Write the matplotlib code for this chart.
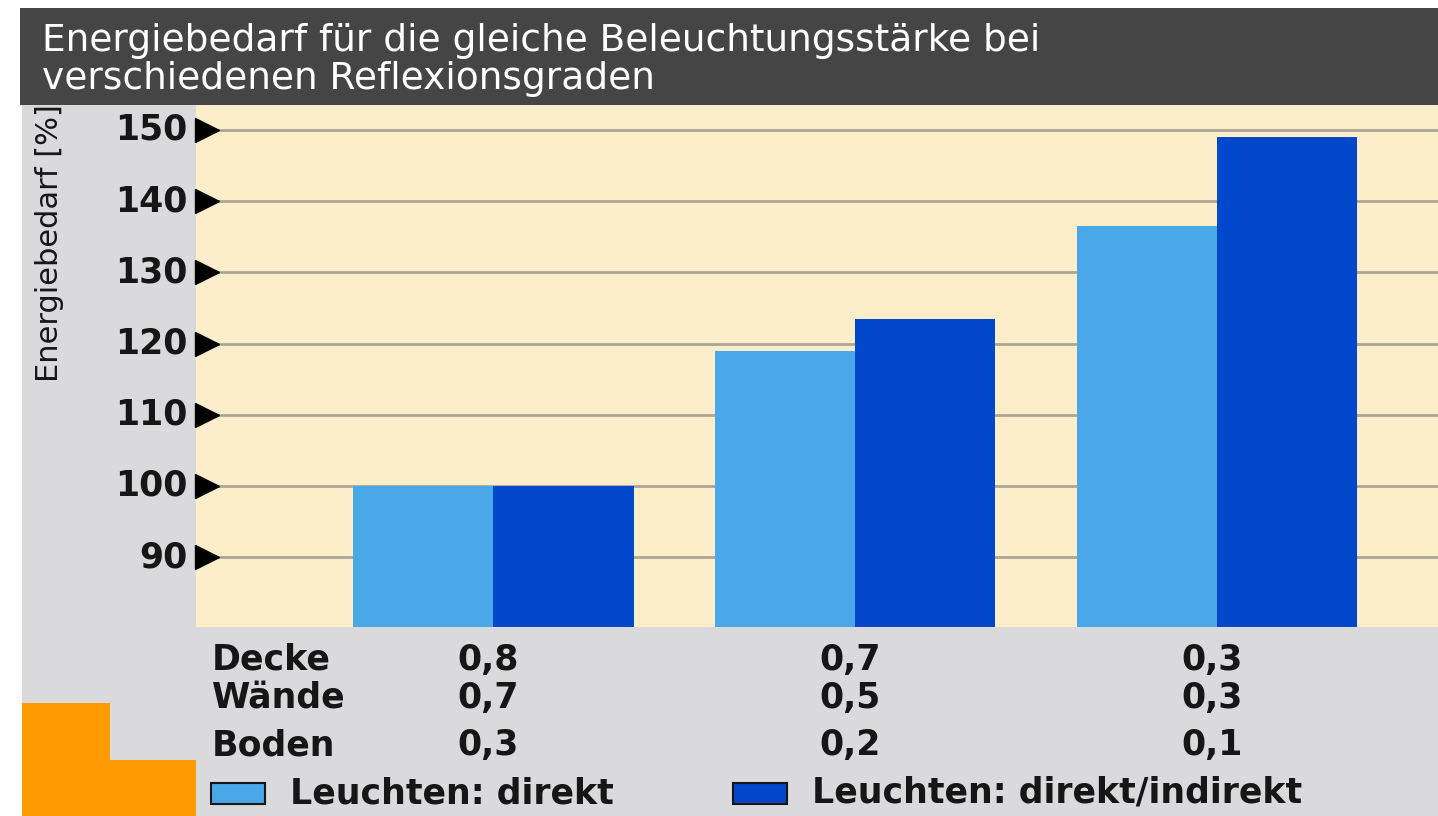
import matplotlib
matplotlib.use("Agg")
import matplotlib.pyplot as plt
from matplotlib.patches import Rectangle
from matplotlib.transforms import blended_transform_factory
import numpy as np

# ---- data ----
groups = ["A", "B", "C"]
direkt = [100, 119, 136.5]
direkt_indirekt = [100, 123.5, 149]
decke = ["0,8", "0,7", "0,3"]
waende = ["0,7", "0,5", "0,3"]
boden = ["0,3", "0,2", "0,1"]
row_labels = ["Decke", "Wände", "Boden"]
yticks = [90, 100, 110, 120, 130, 140, 150]
series_labels = ["Leuchten: direkt", "Leuchten: direkt/indirekt"]
title = "Energiebedarf für die gleiche Beleuchtungsstärke bei\nverschiedenen Reflexionsgraden"
ylabel = "Energiebedarf [%]"

# ---- style ----
W, H = 1438, 816
c_light = "#4aa8e8"
c_dark = "#0047cc"
c_cream = "#fdeecb"
c_panel = "#dadadc"
c_title = "#454545"
c_orange = "#ff9a00"
c_grid = "#ada595"
c_text = "#161616"
font = "DejaVu Sans"

fig = plt.figure(figsize=(W / 100, H / 100), dpi=100, facecolor="white")

def fx(px):
    return px / W

def fy(py):
    return 1 - py / H

def rect(x0, y0, x1, y1, color, z=0):
    fig.add_artist(Rectangle((fx(x0), fy(y1)), fx(x1) - fx(x0), fy(y0) - fy(y1),
                             transform=fig.transFigure, facecolor=color,
                             edgecolor="none", zorder=z))

# background panels
rect(22, 105, W, H, c_panel, 0)
rect(20, 8, W, 105, c_title, 0)
rect(22, 703, 110, H, c_orange, 1)
rect(22, 760, 196, H, c_orange, 1)

fig.text(fx(42), fy(60), title, color="white", fontsize=27, family=font,
         va="center", ha="left", linespacing=1.05)

# axes
ax = fig.add_axes([fx(196), fy(627), fx(W) - fx(196), fy(105) - fy(627)])
ax.set_facecolor(c_cream)
for s in ax.spines.values():
    s.set_visible(False)

x = np.arange(len(groups))
w = 0.387
ax.bar(x - w / 2, direkt, w, color=c_light, zorder=3, label=series_labels[0])
ax.bar(x + w / 2, direkt_indirekt, w, color=c_dark, zorder=3, label=series_labels[1])
ax.set_xlim(-0.822, 2.61)
ax.set_ylim(80.2, 153.5)
ax.set_xticks([])
ax.set_yticks([])

ytr = ax.get_yaxis_transform()
ax.hlines(yticks, 0.01, 1.0, transform=ytr, color=c_grid, lw=2, zorder=1)
ax.plot([0.009] * len(yticks), yticks, linestyle="none", marker=">", markersize=17,
        color="black", transform=ytr, clip_on=False, zorder=5)
for t in yticks:
    ax.text(-0.007, t, str(t), transform=ytr, ha="right", va="center",
            fontsize=25, fontweight="bold", family=font, color=c_text, clip_on=False)

fig.text(fx(50), fy(243), ylabel, rotation=90, ha="center", va="center",
         fontsize=22, family=font, color=c_text)

# table under axes
btr = blended_transform_factory(ax.transData, fig.transFigure)
rows = [decke, waende, boden]
row_base = [670, 708, 755]
for lab, vals, yy in zip(row_labels, rows, row_base):
    fig.text(fx(212), fy(yy), lab, ha="left", va="baseline", fontsize=25,
             fontweight="bold", family=font, color=c_text)
    for xi, v in zip(x, vals):
        ax.text(xi - 0.015, fy(yy), v, transform=btr, ha="center", va="baseline",
                fontsize=25, fontweight="bold", family=font, color=c_text, clip_on=False)

# legend
for (x0, tx), col, lab in zip([(211, 290), (733, 812)], [c_light, c_dark], series_labels):
    fig.add_artist(Rectangle((fx(x0), fy(804)), fx(54), 21 / H, transform=fig.transFigure,
                             facecolor=col, edgecolor=c_text, lw=1.5, zorder=2))
    fig.text(fx(tx), fy(803), lab, ha="left", va="baseline", fontsize=25,
             fontweight="bold", family=font, color=c_text)

fig.savefig("out.png", dpi=100, facecolor="white")
